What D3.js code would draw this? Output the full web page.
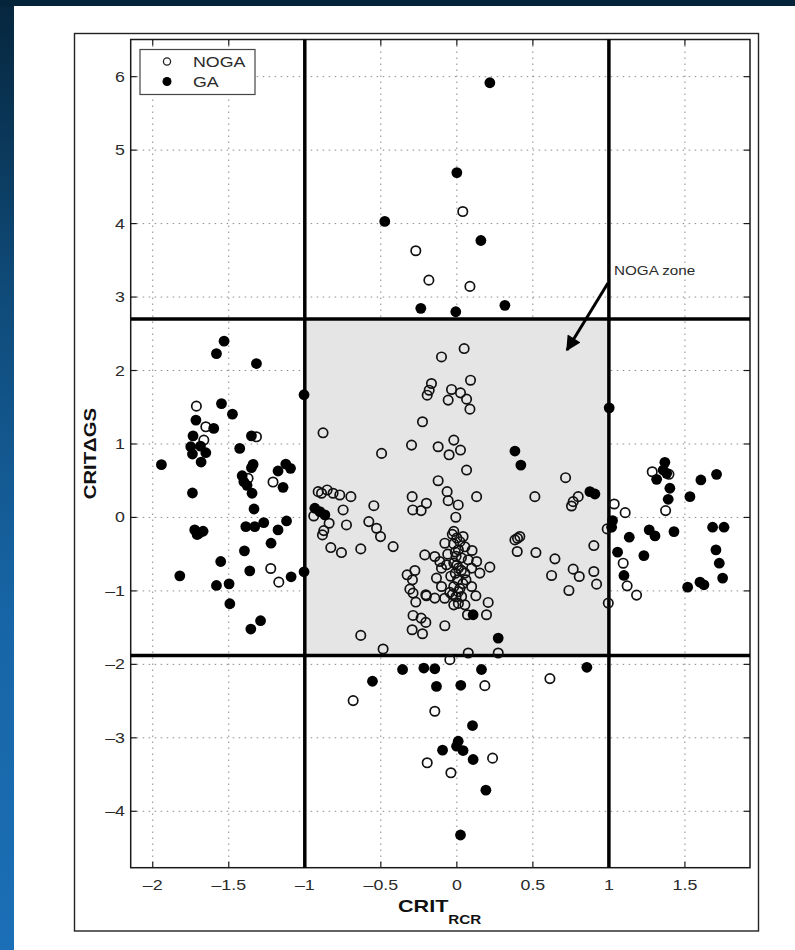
<!DOCTYPE html>
<html>
<head>
<meta charset="utf-8">
<script src="https://cdn.jsdelivr.net/npm/d3@7"></script>
<style>
  html, body { margin: 0; padding: 0; background: #ffffff; }
  svg { display: block; }
</style>
</head>
<body>
<svg id="chart" width="795" height="950"></svg>
<script>
// Axis ranges and tick values
const xDomain = [-2.145, 1.928];
const yDomain = [-4.768, 6.506];
const xTicks = [-2, -1.5, -1, -0.5, 0, 0.5, 1, 1.5];
const yTicks = [-4, -3, -2, -1, 0, 1, 2, 3, 4, 5, 6];

// Zone boundaries (CRIT_RCR and CRIT_DeltaGS thresholds)
const zoneX = [-1, 1];
const zoneY = [-1.88, 2.7];

// GA cases: [CRIT_RCR, CRIT_DeltaGS]
const gaPoints = [
  [-1.531, 2.40], [-1.581, 2.23], [-1.318, 2.095], [-1.005, 1.67], [-1.548, 1.55],
  [-1.476, 1.406], [-1.716, 1.325], [-1.599, 1.212], [-1.735, 1.111], [-1.351, 1.111],
  [-1.75, 0.962], [-1.686, 0.971], [-1.739, 0.863], [-1.651, 0.881], [-1.682, 0.754],
  [-1.428, 0.94], [-1.943, 0.718], [-1.34, 0.722], [-1.351, 0.677], [-1.125, 0.727],
  [-1.094, 0.668], [-1.176, 0.632], [-1.412, 0.568], [-1.401, 0.486], [-1.38, 0.437],
  [-1.143, 0.41], [-1.739, 0.333], [-1.347, 0.329], [-1.334, 0.115], [-1.724, -0.17],
  [-1.695, -0.215], [-1.669, -0.188], [-1.708, -0.233], [-1.388, -0.125], [-1.329, -0.125],
  [-1.27, -0.07], [-1.12, -0.048], [-1.176, -0.17], [-1.222, -0.351], [-1.397, -0.455],
  [-1.553, -0.6], [-1.362, -0.727], [-1.09, -0.808], [-1.005, -0.74], [-1.822, -0.795],
  [-1.581, -0.926], [-1.498, -0.904], [-1.493, -1.175], [-1.355, -1.519], [-1.291, -1.406],
  [-0.934, 0.125], [-0.901, 0.079], [-0.868, 0.034],
  [0.217, 5.917], [0, 4.694], [-0.474, 4.03], [0.158, 3.77], [-0.237, 2.846],
  [-0.007, 2.8], [0.316, 2.887],
  [0.382, 0.904], [0.421, 0.713], [0.107, -1.325], [0.272, -1.642],
  [0.875, 0.351], [0.908, 0.319], [1.002, 1.492], [1.024, -0.043], [1.018, -0.133],
  [1.134, -0.269], [1.057, -0.473], [1.099, -0.79], [1.23, -0.519], [1.265, -0.17],
  [1.303, -0.251], [1.428, -0.193], [1.368, 0.75], [1.357, 0.645], [1.38, 0.6],
  [1.314, 0.519], [1.401, 0.397], [1.39, 0.247], [1.533, 0.283], [1.605, 0.51],
  [1.708, 0.587], [1.682, -0.133], [1.757, -0.133], [1.704, -0.442], [1.726, -0.623],
  [1.748, -0.826], [1.599, -0.881], [1.625, -0.917], [1.518, -0.949],
  [-0.357, -2.07], [-0.217, -2.05], [-0.145, -2.06], [0.162, -2.07], [-0.555, -2.23],
  [-0.134, -2.30], [0.026, -2.285], [0.103, -2.833], [0.009, -3.046], [-0.002, -3.114],
  [0.041, -3.173], [-0.094, -3.168], [0.107, -3.295], [0.191, -3.712], [0.024, -4.323],
  [0.855, -2.04]
];

// NOGA cases: [CRIT_RCR, CRIT_DeltaGS]
const nogaPoints = [
  [-1.713, 1.515], [-1.651, 1.234], [-1.664, 1.053], [-1.318, 1.098], [-1.373, 0.532],
  [-1.209, 0.482], [-1.224, -0.695], [-1.171, -0.881],
  [-0.912, 0.351], [-0.89, 0.329], [-0.853, 0.374], [-0.814, 0.329], [-0.77, 0.306],
  [-0.697, 0.283], [-0.941, 0.02], [-0.84, -0.079], [-0.875, -0.179], [-0.884, -0.238],
  [-0.748, 0.102], [-0.726, -0.102], [-0.546, 0.16], [-0.579, -0.057], [-0.528, -0.147],
  [-0.502, -0.261], [-0.829, -0.41], [-0.759, -0.478], [-0.632, -0.428], [-0.419, -0.397],
  [-0.632, -1.606], [-0.485, -1.791], [-0.88, 1.152],
  [-0.298, 0.985], [-0.495, 0.872], [-0.123, 0.962], [-0.051, 0.853], [-0.123, 0.5],
  [-0.064, 0.351], [-0.057, 0.228], [-0.294, 0.283], [-0.2, 0.193], [-0.29, 0.102],
  [-0.235, 0.093], [-0.007, 0.003],
  [0.048, 2.299], [-0.101, 2.185], [-0.167, 1.823], [-0.182, 1.732], [-0.195, 1.664],
  [0.09, 1.868], [-0.035, 1.742], [0.024, 1.696], [-0.057, 1.597], [0.064, 1.61],
  [0.086, 1.474], [-0.226, 1.302], [-0.02, 1.053], [0.024, 0.917], [0.064, 0.645],
  [0.009, 0.17], [0.13, 0.283],
  [-0.276, -0.722], [-0.327, -0.781], [-0.292, -0.849], [-0.309, -0.976], [-0.288, -1.03],
  [-0.27, -1.152], [-0.204, -1.053], [-0.145, -1.098], [-0.211, -0.51], [-0.145, -0.532],
  [-0.134, -0.826], [-0.288, -1.334], [-0.235, -1.37], [-0.204, -1.429], [-0.294, -1.529],
  [-0.226, -1.583], [-0.079, -1.474], [-0.079, -0.351],
  [-0.02, -0.19], [0.0, -0.28], [-0.02, -0.36], [0.01, -0.44], [-0.005, -0.53],
  [-0.02, -0.62], [0.01, -0.69], [-0.01, -0.76], [0.005, -0.85], [-0.02, -0.94],
  [0.01, -1.01], [-0.005, -1.08], [0.01, -1.17], [-0.02, -1.19],
  [-0.03, -0.23], [0.02, -0.33], [-0.01, -0.47], [0.03, -0.72], [-0.03, -1.05], [0.04, -0.9],
  [0.041, -0.26], [0.053, -0.40], [-0.112, -0.60], [-0.101, -0.69], [-0.068, -0.645],
  [0.075, -0.577], [0.13, -0.60], [0.097, -0.69], [0.151, -0.758], [0.217, -0.677],
  [0.053, -0.758], [-0.101, -0.94], [-0.2, -1.067], [-0.046, -1.02], [0.097, -0.94],
  [0.125, -1.067], [0.031, -1.076], [0.053, -1.19], [0.206, -1.157], [0.195, -1.325],
  [0.07, -1.325], [0.075, -1.846], [0.272, -1.846], [-0.046, -1.936],
  [0.399, -0.283], [0.414, -0.26], [0.382, -0.306], [0.397, -0.464],
  [-0.06, -0.5], [0.03, -0.55], [-0.04, -0.8], [0.06, -0.85], [-0.08, -1.1],
  [0.1, -0.45], [0.0, -0.65], [0.02, -0.97],
  [0.715, 0.541], [0.513, 0.283], [0.798, 0.283], [0.765, 0.215], [0.754, 0.156],
  [0.52, -0.478], [0.645, -0.564], [0.623, -0.79], [0.765, -0.704], [0.805, -0.804],
  [0.737, -0.994], [0.901, -0.383], [0.901, -0.736], [0.919, -0.908], [0.989, -0.156],
  [0.996, -1.166], [1.035, 0.183], [1.107, 0.065], [1.094, -0.623], [1.12, -0.931],
  [1.182, -1.057], [1.285, 0.622], [1.395, 0.587], [1.373, 0.093],
  [-0.682, -2.493], [0.612, -2.194], [-0.145, -2.638], [0.235, -3.277], [-0.195, -3.34],
  [-0.039, -3.476], [0.184, -2.29],
  [0.039, 4.164], [-0.27, 3.63], [-0.184, 3.23], [0.086, 3.145]
];

const legendLabels = ["NOGA", "GA"];

// ---------------------------------------------------------------
const svg = d3.select("#chart");
const W = 795, H = 950;
const plot = { left: 130.7, right: 750, top: 39.5, bottom: 867.7 };
const FONT = "'Liberation Sans', Arial, Helvetica, sans-serif";
const STRETCH = 1.27;   // wide Helvetica rendering

const x = d3.scaleLinear().domain(xDomain).range([plot.left, plot.right]);
const y = d3.scaleLinear().domain(yDomain).range([plot.bottom, plot.top]);

// Slide frame: dark band on top, blue gradient strip on the left
const defs = svg.append("defs");
const grad = defs.append("linearGradient").attr("id", "sideGrad")
  .attr("x1", 0).attr("y1", 0).attr("x2", 0).attr("y2", 1);
grad.append("stop").attr("offset", "0%").attr("stop-color", "#06263d");
grad.append("stop").attr("offset", "30%").attr("stop-color", "#0f4a78");
grad.append("stop").attr("offset", "65%").attr("stop-color", "#1765a6");
grad.append("stop").attr("offset", "100%").attr("stop-color", "#1b6fb6");

svg.append("rect").attr("x", 0).attr("y", 0).attr("width", W).attr("height", H).attr("fill", "#ffffff");
svg.append("rect").attr("x", 0).attr("y", 0).attr("width", 14).attr("height", H).attr("fill", "url(#sideGrad)");
svg.append("rect").attr("x", 0).attr("y", 0).attr("width", W).attr("height", 6).attr("fill", "#04243a");

// Figure border
svg.append("rect").attr("x", 74.5).attr("y", 33.5).attr("width", 684).attr("height", 897.5)
  .attr("fill", "none").attr("stroke", "#222").attr("stroke-width", 1.4);

const g = svg.append("g");

// Dotted grid
g.append("g").selectAll("line").data(xTicks).join("line")
  .attr("x1", d => x(d)).attr("x2", d => x(d))
  .attr("y1", plot.top).attr("y2", plot.bottom)
  .attr("stroke", "#8a8a8a").attr("stroke-width", 1).attr("stroke-dasharray", "1.5,4.5");
g.append("g").selectAll("line").data(yTicks).join("line")
  .attr("y1", d => y(d)).attr("y2", d => y(d))
  .attr("x1", plot.left).attr("x2", plot.right)
  .attr("stroke", "#8a8a8a").attr("stroke-width", 1).attr("stroke-dasharray", "1.5,4.5");

// NOGA zone patch
g.append("rect")
  .attr("x", x(zoneX[0])).attr("y", y(zoneY[1]))
  .attr("width", x(zoneX[1]) - x(zoneX[0]))
  .attr("height", y(zoneY[0]) - y(zoneY[1]))
  .attr("fill", "#e5e5e5");

// Axes box
g.append("rect").attr("x", plot.left).attr("y", plot.top)
  .attr("width", plot.right - plot.left).attr("height", plot.bottom - plot.top)
  .attr("fill", "none").attr("stroke", "#1a1a1a").attr("stroke-width", 1.5);

// Inward ticks on all four sides
const tickLen = 6;
const tk = g.append("g").attr("stroke", "#1a1a1a").attr("stroke-width", 1.2);
xTicks.forEach(v => {
  tk.append("line").attr("x1", x(v)).attr("x2", x(v)).attr("y1", plot.bottom).attr("y2", plot.bottom - tickLen);
  tk.append("line").attr("x1", x(v)).attr("x2", x(v)).attr("y1", plot.top).attr("y2", plot.top + tickLen);
});
yTicks.forEach(v => {
  tk.append("line").attr("y1", y(v)).attr("y2", y(v)).attr("x1", plot.left).attr("x2", plot.left + tickLen);
  tk.append("line").attr("y1", y(v)).attr("y2", y(v)).attr("x1", plot.right).attr("x2", plot.right - tickLen);
});

// Text helper with the wide glyph rendering
function label(parent, tx, ty, text, opts = {}) {
  const rot = opts.rotate ? ` rotate(${opts.rotate})` : "";
  return parent.append("text")
    .attr("transform", `translate(${tx},${ty})${rot} scale(${opts.stretch || STRETCH},1)`)
    .attr("text-anchor", opts.anchor || "start")
    .attr("font-family", FONT)
    .attr("font-size", opts.size || 14)
    .attr("font-weight", opts.weight || "normal")
    .attr("fill", opts.fill || "#2a2a2a")
    .text(text);
}
const fmt = v => (v < 0 ? "\u2013" : "") + String(Math.abs(v));

const labels = svg.append("g");
xTicks.forEach(v => label(labels, x(v), 890, fmt(v), { anchor: "middle" }));
yTicks.forEach(v => label(labels, 125, y(v) + 5, fmt(v), { anchor: "end" }));

// Thick zone boundary lines across the whole axes
const zl = g.append("g").attr("stroke", "#000").attr("stroke-width", 3.5);
zoneX.forEach(v => zl.append("line").attr("x1", x(v)).attr("x2", x(v)).attr("y1", plot.top).attr("y2", plot.bottom));
zoneY.forEach(v => zl.append("line").attr("y1", y(v)).attr("y2", y(v)).attr("x1", plot.left).attr("x2", plot.right));

// Markers
const R = 4.7;
g.append("g").selectAll("circle").data(nogaPoints).join("circle")
  .attr("cx", d => x(d[0])).attr("cy", d => y(d[1])).attr("r", R)
  .attr("fill", "none").attr("stroke", "#111").attr("stroke-width", 1.7);
g.append("g").selectAll("circle").data(gaPoints).join("circle")
  .attr("cx", d => x(d[0])).attr("cy", d => y(d[1])).attr("r", R + 0.7)
  .attr("fill", "#000").attr("stroke", "none");

// Annotation arrow pointing into the zone
const arrowHead = defs.append("marker").attr("id", "arrowHead")
  .attr("viewBox", "0 0 10 10").attr("refX", 9).attr("refY", 5)
  .attr("markerWidth", 6.5).attr("markerHeight", 5).attr("orient", "auto")
  .attr("markerUnits", "strokeWidth");
arrowHead.append("path").attr("d", "M0,0 L10,5 L0,10 Z").attr("fill", "#000");
g.append("line").attr("x1", 608).attr("y1", 283).attr("x2", 567).attr("y2", 350)
  .attr("stroke", "#000").attr("stroke-width", 3).attr("marker-end", "url(#arrowHead)");
label(labels, 614, 275, "NOGA zone", { size: 12 });

// Legend
const lg = svg.append("g");
lg.append("rect").attr("x", 140).attr("y", 49.5).attr("width", 115).attr("height", 45)
  .attr("fill", "#fff").attr("stroke", "#444").attr("stroke-width", 1.2);
lg.append("circle").attr("cx", 167).attr("cy", 61.5).attr("r", 3.6)
  .attr("fill", "none").attr("stroke", "#222").attr("stroke-width", 1.3);
lg.append("circle").attr("cx", 167).attr("cy", 81.5).attr("r", 4.5).attr("fill", "#000");
label(lg, 193, 67, legendLabels[0], { size: 14 });
label(lg, 193, 87, legendLabels[1], { size: 14 });

// Axis titles
const xt = labels.append("text")
  .attr("transform", `translate(398,912) scale(${STRETCH},1)`)
  .attr("font-family", FONT).attr("font-weight", "bold").attr("font-size", 17).attr("fill", "#111");
xt.append("tspan").text("CRIT");
xt.append("tspan").attr("font-size", 12).attr("dy", 12).text("RCR");

label(labels, 96, (plot.top + plot.bottom) / 2, "CRIT\u0394GS",
  { rotate: -90, anchor: "middle", weight: "bold", size: 16, fill: "#111" });
</script>
</body>
</html>
